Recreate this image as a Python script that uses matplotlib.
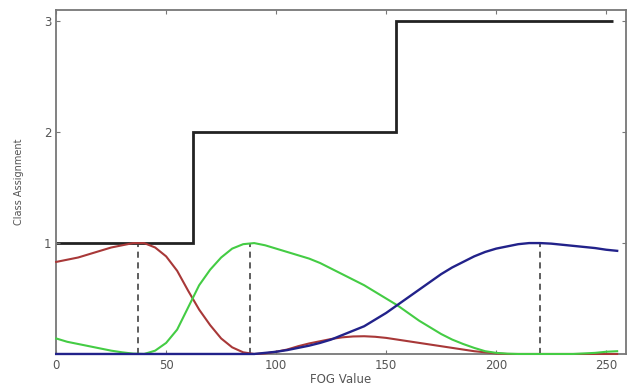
import numpy as np
import matplotlib
matplotlib.use("Agg")
import matplotlib.pyplot as plt

# FOG values sampled every 5 units
fog = np.arange(0, 256, 5)

red = [0.83, 0.85, 0.87, 0.90, 0.93, 0.96, 0.98, 1.00, 1.00, 0.96,
       0.88, 0.75, 0.57, 0.40, 0.26, 0.14, 0.06, 0.015, 0.0, 0.005,
       0.02, 0.04, 0.07, 0.095, 0.115, 0.135, 0.15, 0.158, 0.16, 0.155,
       0.145, 0.13, 0.115, 0.10, 0.085, 0.07, 0.055, 0.04, 0.025, 0.015,
       0.005, 0, 0, 0, 0, 0, 0, 0, 0, 0, 0, 0]

green = [0.14, 0.11, 0.09, 0.07, 0.05, 0.03, 0.015, 0.003, 0.0, 0.03,
         0.10, 0.22, 0.42, 0.62, 0.76, 0.87, 0.95, 0.99, 1.00, 0.98,
         0.95, 0.92, 0.89, 0.86, 0.82, 0.77, 0.72, 0.67, 0.62, 0.56,
         0.50, 0.44, 0.37, 0.30, 0.24, 0.18, 0.13, 0.09, 0.055, 0.025,
         0.01, 0.003, 0, 0, 0, 0, 0, 0, 0.005, 0.01, 0.02, 0.025]

blue = [0, 0, 0, 0, 0, 0, 0, 0, 0, 0,
        0, 0, 0, 0, 0, 0, 0, 0, 0, 0.01,
        0.02, 0.035, 0.055, 0.075, 0.10, 0.13, 0.17, 0.21, 0.25, 0.31,
        0.37, 0.44, 0.51, 0.58, 0.65, 0.72, 0.78, 0.83, 0.88, 0.92,
        0.95, 0.97, 0.99, 1.0, 1.0, 0.995, 0.985, 0.975, 0.965, 0.955,
        0.94, 0.93]

# class assignment step function
class_edges = [0, 62, 154.5, 253]
class_levels = [1, 2, 3]

# membership peaks (dashed markers)
peak_x = [37, 88, 220]

fig = plt.figure(figsize=(6.31, 3.92), dpi=100)
ax = fig.add_axes([0.089, 0.097, 0.903, 0.877])

ax.plot(fog, red, color="#a83838", lw=1.5, clip_on=False, zorder=3)
ax.plot(fog, green, color="#44cc44", lw=1.5, clip_on=False, zorder=3)
ax.plot(fog, blue, color="#22228a", lw=1.7, clip_on=False, zorder=4)
ax.vlines(peak_x, 0, 1, colors="#333333", linestyles=(0, (4, 3)), lw=1.1)
ax.stairs(class_levels, class_edges, baseline=None, color="#222222", lw=2)

ax.set_xlim(0, 259)
ax.set_ylim(0, 3.1)
ax.set_xticks(range(0, 251, 50))
ax.set_yticks([1, 2, 3])

for s in ax.spines.values():
    s.set_color("#777777")
    s.set_linewidth(1.3)
ax.tick_params(direction="in", top=True, right=True, length=3,
               color="#777777", labelcolor="#555555", labelsize=8.5)
ax.set_xlabel("FOG Value", fontsize=8.5, color="#555555", labelpad=1)
ax.set_ylabel("Class Assignment", fontsize=7, color="#555555", labelpad=14)

fig.savefig("out.png", dpi=100)
